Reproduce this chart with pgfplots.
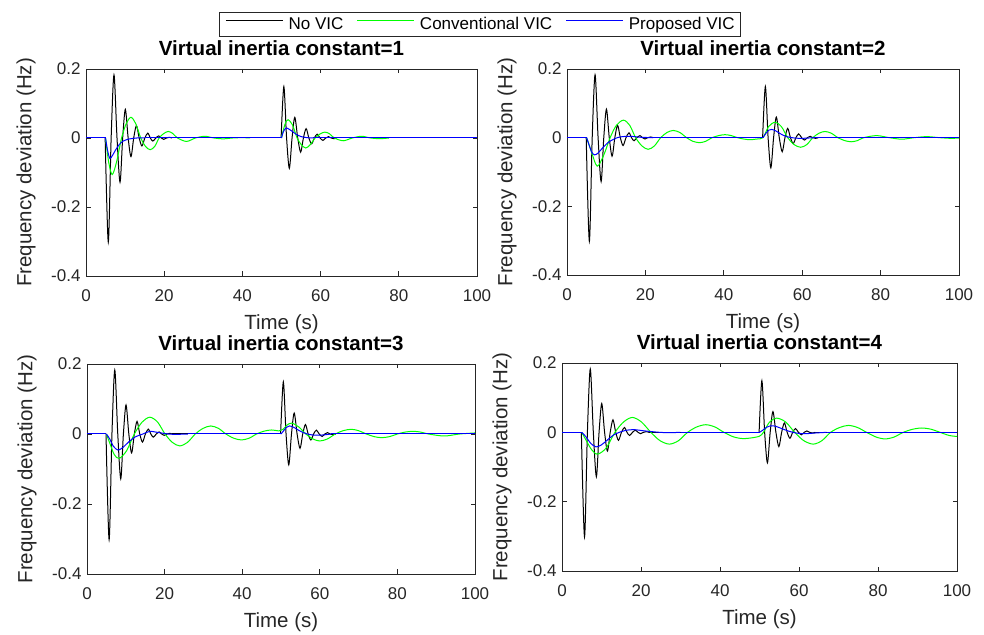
\documentclass[border=0pt]{standalone}
\usepackage{fontspec}
\setmainfont{Liberation Sans}
\usepackage{pgfplots}
\usepackage{pgfplotstable}
\pgfplotsset{compat=1.18}
\definecolor{axgray}{gray}{0.15}
\definecolor{mgreen}{rgb}{0,1,0}
\definecolor{mblue}{rgb}{0,0,1}

% ---------- No VIC (same in all panels) ----------
\pgfplotstableread{
t f
0 0
4.9 0
5 nan
22 0
49.9 0
50 nan
64.1 0
100 0
}\blackflat
\pgfplotstableread{
t f
4.9 0
5.7 -0.302
6.43 0
7.16 0.183
7.93 0
8.7 -0.128
9.38 0
10.06 0.083
10.78 0
11.5 -0.054
12.2 0
12.9 0.036
13.6 0
14.3 -0.023
15.05 0
15.8 0.014
16.45 0
17.1 -0.009
17.85 0
18.6 0.006
19.25 0
19.9 -0.004
20.6 0
21.3 0.002
22 0
30 nan
49.9 0
50.6 0.149
51.3 0
52.0 -0.088
52.7 0
53.4 0.060
54.15 0
54.9 -0.041
55.6 0
56.3 0.027
57.0 0
57.7 -0.017
58.4 0
59.1 0.011
59.85 0
60.6 -0.007
61.3 0
62.0 0.004
62.7 0
63.4 -0.002
64.1 0
}\blackosc

% ---------- H = 1 ----------
\pgfplotstableread{
t f
0 0
5 0
5.5 nan
42 0
50 0
60 nan
77.5 0
100 0
}\gflatA
\pgfplotstableread{
t f
5 0
5.8 -0.07
6.7 -0.106
7.8 -0.07
9.1 0
10.3 0.042
11.5 0.06
12.7 0.042
14 0
15.2 -0.024
16.4 -0.034
17.6 -0.024
18.7 0
19.9 0.013
21.05 0.019
22.2 0.013
23.4 0
25.7 -0.01
28 0
30.4 0.005
32.7 0
35 -0.0025
37.5 0
40 0.001
42 0
46 nan
50 0
50.4 0.02
51 0.043
51.7 0.053
52.8 0.038
54 0
55.1 -0.02
56.2 -0.029
57.3 -0.02
58.6 0
59.9 0.012
61.1 0.017
62.3 0.012
63.5 0
65.8 -0.008
68.1 0
70.5 0.005
72.8 0
75.2 -0.002
77.5 0
}\goscA
\pgfplotstableread{
t f
0 0
5 0
5.2 nan
15 0
50 0
50.2 nan
58 0
100 0
}\bflatA
\pgfplotstableread{
t f
5 0
5.5 -0.035
6.1 -0.059
6.8 -0.05
7.5 -0.036
8.5 -0.019
9.5 -0.009
11 -0.003
13 0
15 0
30 nan
50 0
50.5 0.019
51.2 0.029
52 0.025
53 0.017
54 0.009
55 0.004
56.5 0.001
58 0
}\boscA

% ---------- H = 2 ----------
\pgfplotstableread{
t f
0 0
5 0
}\gflatB
\pgfplotstableread{
t f
5 0
6.2 -0.04
7.7 -0.083
9.4 -0.05
11 0
12.6 0.036
14.4 0.051
16 0.036
17.5 0
19.1 -0.024
20.7 -0.034
22.3 -0.024
23.9 0
25.5 0.015
27.1 0.021
28.8 0.015
30.5 0
32.1 -0.0105
33.8 -0.0146
35.4 -0.0105
37 0
38.7 0.006
40.3 0.0087
41.9 0.006
43.5 0
45.1 -0.004
46.7 -0.006
48.4 -0.004
50 0
51.4 0.032
53.1 0.045
54.7 0.032
56.3 0
57.9 -0.02
59.6 -0.028
61.2 -0.02
62.7 0
64.3 0.013
65.8 0.018
67.4 0.013
69.1 0
70.8 -0.0085
72.5 -0.012
74.1 -0.0085
75.7 0
79 0.006
82.2 0
85.4 -0.0045
88.6 0
91.8 0.003
95 0
98 -0.002
100 -0.001
}\goscB
\pgfplotstableread{
t f
0 0
5 0
5.2 nan
22 0
50 0
50.2 nan
63 0
100 0
}\bflatB
\pgfplotstableread{
t f
5 0
5.6 -0.02
6.3 -0.042
7 -0.05
7.8 -0.046
9 -0.031
10.5 -0.014
12 -0.004
13.5 0.002
16 0.004
19 0.001
22 0
30 nan
50 0
50.7 0.012
51.5 0.022
52.2 0.024
53.2 0.02
54.5 0.011
56 0.003
58 -0.001
60 -0.002
63 0
}\boscB

% ---------- H = 3 ----------
\pgfplotstableread{
t f
5 0
6 -0.03
7 -0.058
8.25 -0.07
10.2 -0.048
12.2 0
14.2 0.034
16.2 0.048
18.2 0.034
20.1 0
22 -0.024
23.9 -0.034
25.9 -0.024
27.9 0
29.9 0.016
31.9 0.023
33.9 0.016
35.8 0
37.8 -0.012
39.8 -0.017
41.8 -0.012
43.7 0
45.6 0.008
47.5 0.0115
49.5 0.009
50.5 0.013
51.6 0.026
52.8 0.031
54.6 0.02
56.4 0
58.2 -0.014
60 -0.02
62 -0.014
64 0
66 0.0095
68.1 0.0134
70 0.0095
72 0
74 -0.0075
75.9 -0.0105
78 -0.0075
80 0
82 0.0055
84 0.0077
86 0.0055
88 0
92.1 -0.0057
96 0
100 0.003
}\goscC
\pgfplotstableread{
t f
0 0
5 0
5.2 nan
26 0
50 0
50.2 nan
63 0
100 0
}\bflatC
\pgfplotstableread{
t f
5 0
5.8 -0.013
6.8 -0.035
8 -0.046
9.3 -0.038
10.8 -0.022
12.5 -0.008
14.4 0
16.2 0.0075
18.5 0.004
21 0
23 -0.001
26 0
30 nan
50 0
50.6 0.008
51.4 0.019
52.2 0.023
53.3 0.019
54.8 0.009
56.5 0.001
58.3 -0.003
60.5 -0.003
63 0
}\boscC

% ---------- H = 4 ----------
\pgfplotstableread{
t f
5 0
6.2 -0.025
7.5 -0.05
9 -0.063
11.2 -0.045
13.4 0
15.6 0.03
17.8 0.043
20.1 0.03
22.5 0
24.8 -0.024
27.2 -0.034
29.5 -0.024
31.8 0
34.1 0.0155
36.4 0.022
38.7 0.0155
41 0
43.4 -0.013
45.7 -0.018
48 -0.016
50 -0.011
51 0
52.5 0.029
54.3 0.041
56.6 0.03
58.9 0
61.2 -0.024
63.6 -0.034
65.8 -0.024
68 0
70.3 0.014
72.5 0.020
74.8 0.014
77.1 0
79.5 -0.0135
81.8 -0.019
84.1 -0.0135
86.4 0
88.8 0.009
91.1 0.0125
93.4 0.009
95.7 0
98 -0.009
100 -0.012
}\goscD
\pgfplotstableread{
t f
0 0
5 0
5.2 nan
30 0
50 0
50.2 nan
67 0
100 0
}\bflatD
\pgfplotstableread{
t f
5 0
6 -0.012
7.3 -0.032
8.6 -0.042
10 -0.036
11.5 -0.022
13 -0.008
14.5 0
16.3 0.006
18.3 0.0077
21 0.004
24.7 0
27 -0.001
30 0
35 nan
50 0
50.8 0.006
51.9 0.015
53 0.019
54.2 0.017
55.8 0.01
57.5 0.003
59.3 -0.002
61.5 -0.004
64 -0.002
67 0
}\boscD

\pgfplotsset{
  vic/.style={
    scale only axis,
    anchor=north west,
    xmin=0, xmax=100, ymin=-0.4, ymax=0.2,
    xtick={0,20,40,60,80,100}, xticklabels={0,20,40,60,80,100},
    ytick={-0.4,-0.2,0,0.2}, yticklabels={-0.4,-0.2,0,0.2},
    tick align=inside, xtick pos=both, ytick pos=both,
    major tick length=4.5pt,
    axis line style={draw=axgray, line width=0.8pt},
    every tick/.style={draw=axgray, line width=0.8pt},
    tick label style={font=\fontsize{17}{20}\selectfont, text=axgray},
    xticklabel style={yshift=-10pt},
    yticklabel style={xshift=-2pt},
    xlabel={Time (s)}, ylabel={Frequency deviation (Hz)},
    every axis x label/.style={at={(axis description cs:0.5,0)}, anchor=center, yshift=-48pt,
      font=\fontsize{20.5}{24}\selectfont, text=axgray},
    title style={font=\fontsize{20.5}{24}\selectfont\bfseries, text=black,
      at={(axis description cs:0.5,1)}, anchor=base, yshift=7pt},
    unbounded coords=jump,
    every axis plot/.append style={line width=1.0pt},
  },
  ylab/.style={every axis y label/.style={at={(axis description cs:#1,0.5)}, rotate=90, anchor=center,
      font=\fontsize{20.5}{24}\selectfont, text=axgray}},
}

\begin{document}
\begin{tikzpicture}
\useasboundingbox (0,0) rectangle (984pt,634pt);

% ---------------- panel 1 ----------------
\begin{axis}[vic, at={(86pt,565pt)}, width=391pt, height=207pt, ylab=-0.1535,
  title={Virtual inertia constant=1},
  legend columns=3,
  legend image code/.code={\draw[#1] (0pt,0.33em) -- (56.7pt,0.33em);},
  legend style={at={(axis description cs:1.0077,1.2174)}, anchor=center,
    draw=axgray, line width=0.8pt, fill=white,
    font=\fontsize{17}{20}\selectfont, text=black,
    inner xsep=6pt, inner ysep=5pt, nodes={inner sep=0pt},
    /tikz/every odd column/.append style={column sep=5.6pt},
    /tikz/every even column/.append style={column sep=13.3pt}},
  legend cell align=left]
\addplot[black] table {\blackflat};
\addplot[black, smooth, forget plot] table {\blackosc};
\addplot[mgreen] table {\gflatA};
\addplot[mgreen, smooth, forget plot] table {\goscA};
\addplot[mblue] table {\bflatA};
\addplot[mblue, smooth, forget plot] table {\boscA};
\legend{No VIC, Conventional VIC, Proposed VIC}
\end{axis}

% ---------------- panel 2 ----------------
\begin{axis}[vic, at={(567pt,565pt)}, width=392pt, height=206pt, ylab=-0.153,
  title={Virtual inertia constant=2}]
\addplot[black] table {\blackflat};
\addplot[black, smooth] table {\blackosc};
\addplot[mgreen] table {\gflatB};
\addplot[mgreen, smooth] table {\goscB};
\addplot[mblue] table {\bflatB};
\addplot[mblue, smooth] table {\boscB};
\end{axis}

% ---------------- panel 3 ----------------
\begin{axis}[vic, at={(87pt,270pt)}, width=388pt, height=210pt, ylab=-0.1546,
  title={Virtual inertia constant=3}]
\addplot[black] table {\blackflat};
\addplot[black, smooth] table {\blackosc};
\addplot[mgreen] table {\gflatB};
\addplot[mgreen, smooth] table {\goscC};
\addplot[mblue] table {\bflatC};
\addplot[mblue, smooth] table {\boscC};
\end{axis}

% ---------------- panel 4 ----------------
\begin{axis}[vic, at={(562pt,271pt)}, width=395pt, height=208pt, ylab=-0.152,
  title={Virtual inertia constant=4}]
\addplot[black] table {\blackflat};
\addplot[black, smooth] table {\blackosc};
\addplot[mgreen] table {\gflatB};
\addplot[mgreen, smooth] table {\goscD};
\addplot[mblue] table {\bflatD};
\addplot[mblue, smooth] table {\boscD};
\end{axis}
\end{tikzpicture}
\end{document}
